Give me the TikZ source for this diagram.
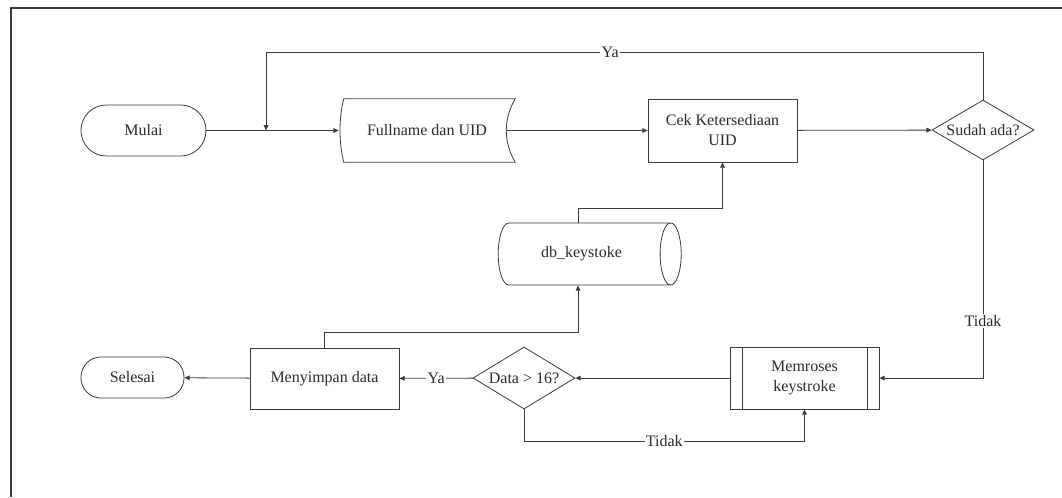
\documentclass[tikz,border=0pt]{standalone}
\usepackage{fontspec}
\setmainfont{Liberation Serif}
\usepackage{tikz}
\usetikzlibrary{shapes.geometric,arrows.meta,positioning,calc}

\definecolor{garis}{HTML}{3A3A3A}
\definecolor{teks}{HTML}{2A2A2A}

\begin{document}
\begin{tikzpicture}[
    x=0.75pt, y=-0.75pt,
    font=\fontsize{12}{15}\selectfont,
    every node/.style={text=teks},
    term/.style={draw=garis, line width=0.6pt, rounded corners=19pt, minimum width=93.75pt, minimum height=38.25pt},
    io/.style={minimum width=132pt, minimum height=47.25pt},
    proc/.style={draw=garis, line width=0.6pt, minimum width=111.75pt, minimum height=47.25pt, align=center},
    predef/.style={proc, path picture={
        \draw[garis, line width=0.6pt] ([xshift=9pt]path picture bounding box.north west) -- ([xshift=9pt]path picture bounding box.south west);
        \draw[garis, line width=0.6pt] ([xshift=-9pt]path picture bounding box.north east) -- ([xshift=-9pt]path picture bounding box.south east);}},
    decision/.style={draw=garis, line width=0.6pt, diamond, inner sep=0pt, minimum width=76.5pt, minimum height=46.5pt},
    db/.style={draw=garis, line width=0.6pt, cylinder, shape aspect=0.9, minimum width=46.5pt, minimum height=137.25pt},
    arrow/.style={draw=garis, line width=0.6pt, -{Triangle[length=4pt,width=3.5pt]}},
    lbl/.style={fill=white, inner sep=1pt}
]
\useasboundingbox (0,0) rectangle (1062,497);
\draw[garis, line width=1.2pt] (11,497) -- (11,8) -- (1062,8);

% baris atas
\node[term] (mulai) at (143.5,130.5) {Mulai};
\node[io] (input) at (427,130.5) {Fullname dan UID};
\draw[garis, line width=0.6pt] ([xshift=3.75pt]input.north west) .. controls +(-5,20) and +(-5,-20) .. ([xshift=3.75pt]input.south west)
  -- (input.south east) .. controls +(-12,-20) and +(-12,20) .. (input.north east) -- cycle;
\node[proc] (cek) at (722.5,130.5) {Cek Ketersediaan\\UID};
\node[decision, minimum height=45pt, label=center:{Sudah ada?}] (sudah) at (983,130) {};
\node[db] (dbkey) at (581.5,254) {db\_keystoke};

% baris bawah
\node[predef, minimum height=46.5pt] (proses) at (804.5,378) {Memroses\\keystroke};
\node[decision, label=center:{Data > 16?}] (cekdata) at (524,378) {};
\node[proc, minimum height=45.75pt] (simpan) at (324.5,378.5) {Menyimpan data};
\node[term, rounded corners=15pt, minimum width=77.25pt, minimum height=30.75pt] (selesai) at (132.5,377.5) {Selesai};

\coordinate (gabung) at (266,130.5);
\coordinate (ya1) at (266,52);
\coordinate (k1) at (578,332);
\coordinate (k2) at (578,208);

\draw[arrow] (mulai) -- (input);
\draw[arrow] ([xshift=-7pt]input.east) -- (cek);
\draw[arrow] (cek) -- (sudah);
\draw[arrow] (sudah.north) |- node[lbl, pos=0.76]{Ya} (ya1) -- (gabung);
\draw[arrow] (sudah.south) |- node[lbl, pos=0.37]{Tidak} (proses.east);
\draw[arrow] (proses) -- (cekdata);
\draw[arrow] (cekdata) -- node[lbl]{Ya} (simpan);
\draw[arrow] (cekdata.south) -- ++(0,32) -| node[lbl, pos=0.25]{Tidak} (proses.south);
\draw[arrow] (simpan) -- (selesai);
\draw[arrow] (simpan.north) |- (k1) -- (k1 |- dbkey.south);
\draw[arrow] (k2 |- dbkey.north) -- (k2) -| (cek.south);
\end{tikzpicture}
\end{document}
